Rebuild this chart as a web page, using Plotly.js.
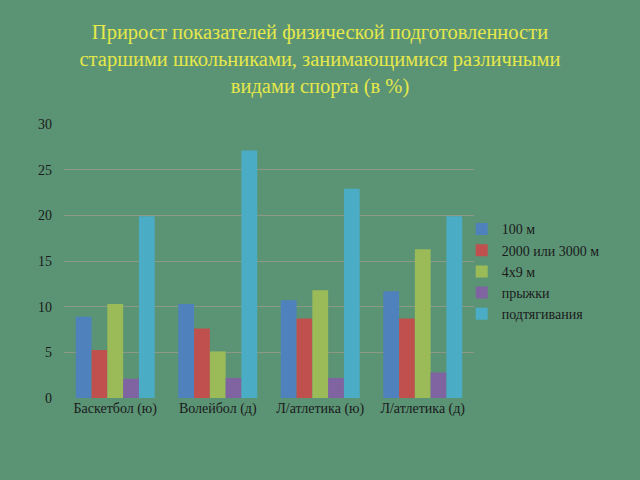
<!DOCTYPE html>
<html><head><meta charset="utf-8">
<script src="https://cdn.plot.ly/plotly-3.0.1.min.js"></script>
<style>html,body{margin:0;padding:0;background:#5B9475;}</style>
</head><body><div id="chart" style="width:640px;height:480px;"></div>
<script>
const categories = ["Баскетбол (ю)", "Волейбол (д)", "Л/атлетика (ю)", "Л/атлетика (д)"];
const seriesNames = ["100 м", "2000 или 3000 м", "4х9 м", "прыжки", "подтягивания"];
const s100 = [8.9, 10.3, 10.7, 11.7];
const s2000 = [5.25, 7.6, 8.7, 8.7];
const s4x9 = [10.3, 5.1, 11.8, 16.3];
const sJump = [2.1, 2.2, 2.2, 2.8];
const sPull = [19.9, 27.1, 22.9, 19.9];
const yTicks = [0, 5, 10, 15, 20, 25, 30];
const colors = ["#4F81BD", "#C0504D", "#9BBB59", "#8064A2", "#4BACC6"];
const allSeries = [s100, s2000, s4x9, sJump, sPull];
const traces = allSeries.map((vals, i) => ({
  type: "bar", name: seriesNames[i], x: categories, y: vals,
  marker: {color: colors[i]}
}));
const layout = {
  width: 640, height: 480,
  paper_bgcolor: "#5B9475", plot_bgcolor: "#5B9475",
  font: {family: "Liberation Serif, Times New Roman, serif", size: 14, color: "#1a1a1a"},
  title: {text: "Прирост показателей физической подготовленности<br>старшими школьниками, занимающимися различными<br>видами спорта (в %)",
    font: {family: "Liberation Serif, serif", size: 20.5, color: "#E6E84A"},
    x: 0.5, xanchor: "center", xref: "container", yref: "container", y: 0.918, yanchor: "top"},
  margin: {l: 64, r: 166, t: 124, b: 82},
  barmode: "group", bargap: 0.23, bargroupgap: 0,
  xaxis: {showgrid: false, zeroline: false, showline: false, ticks: "", tickfont: {size: 14}},
  yaxis: {range: [0, 30], tickvals: yTicks, showgrid: true, gridcolor: "#8C9A84", gridwidth: 1,
    zeroline: false, showline: false, ticks: "", ticklabelstandoff: 11, tickfont: {size: 14}},
  legend: {x: 0.97, xanchor: "left", y: 0.462, yanchor: "middle", font: {size: 14, color: "#1a1a1a"},
    bgcolor: "rgba(0,0,0,0)", tracegroupgap: 0, itemwidth: 30},
  showlegend: true
};
Plotly.newPlot("chart", traces, layout, {displayModeBar: false, staticPlot: true});
</script></body></html>
